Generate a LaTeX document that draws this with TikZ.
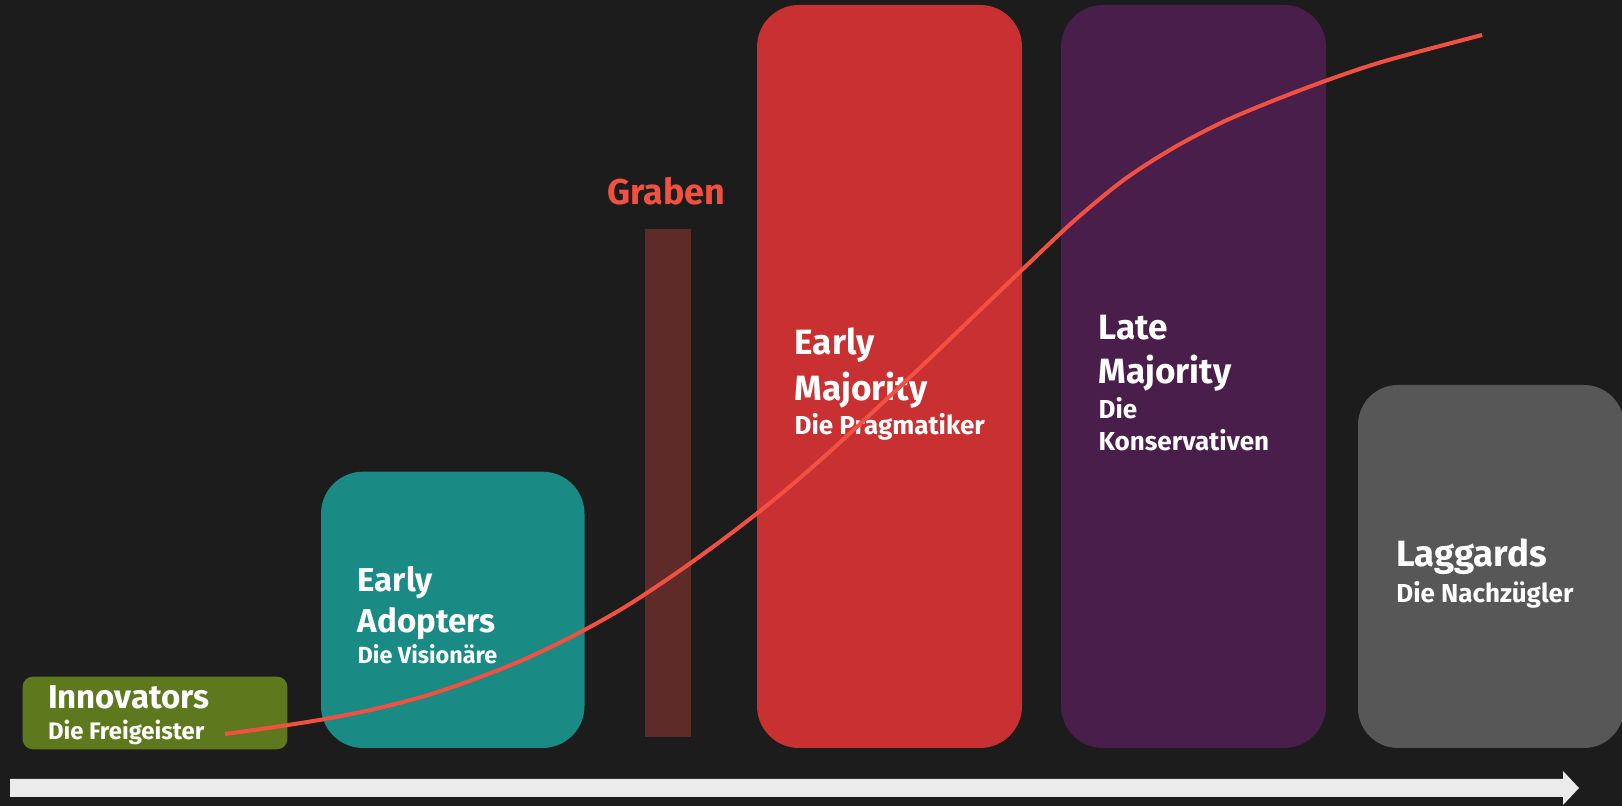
\documentclass[tikz,border=0pt]{standalone}
\usepackage{fontspec}
\setmainfont{Fira Sans}

\definecolor{bg}{HTML}{1C1C1C}
\definecolor{innogreen}{HTML}{5E781E}
\definecolor{adoptteal}{HTML}{1A8A85}
\definecolor{grabenbar}{HTML}{5E2B29}
\definecolor{grabentext}{HTML}{F25142}
\definecolor{earlyred}{HTML}{C93032}
\definecolor{latepurple}{HTML}{4A1E4A}
\definecolor{laggray}{HTML}{575757}
\definecolor{arrowgray}{HTML}{EBEBEB}

\begin{document}
\begin{tikzpicture}[
    title/.style = {anchor = base west, inner sep = 0, text = white, font = \bfseries\fontsize{#1}{12}\selectfont},
    title/.default = 9.4,
    sub/.style = {anchor = base west, inner sep = 0, text = white, font = \bfseries\fontsize{#1}{8}\selectfont},
    sub/.default = 6.7]

    \fill [bg] (0, 0) rectangle (16.22, 8.06);
    \useasboundingbox (0, 0) rectangle (16.22, 8.06);

    % boxes
    \fill [innogreen, rounded corners = 0.1cm] (0.227, 0.567) rectangle (2.873, 1.293);
    \fill [adoptteal, rounded corners = 0.42cm] (3.21, 0.58) rectangle (5.845, 3.343);
    \fill [grabenbar] (6.45, 0.685) rectangle (6.91, 5.77);
    \fill [earlyred, rounded corners = 0.42cm] (7.57, 0.58) rectangle (10.22, 8.01);
    \fill [latepurple, rounded corners = 0.42cm] (10.61, 0.58) rectangle (13.26, 8.01);
    \fill [laggray, rounded corners = 0.4cm] (13.58, 0.58) rectangle (16.24, 4.21);

    % time axis
    \fill [arrowgray] (0.10, 0.09) -- (15.63, 0.09) -- (15.63, 0.01) -- (15.79, 0.18)
        -- (15.63, 0.35) -- (15.63, 0.27) -- (0.10, 0.27) -- cycle;

    \node [title] (inno) at (0.473, 0.977) {Innovators};
    \node [sub = 6.8] (innosub) at (0.473, 0.66) {Die Freigeister};

    \node [title] (ea1) at (3.57, 2.143) {Early};
    \node [title] (ea2) at (3.57, 1.737) {Adopters};
    \node [sub = 6.65] (easub) at (3.57, 1.42) {Die Visionäre};

    \node [anchor = base, inner sep = 0, text = grabentext, font = \bfseries\fontsize{10.2}{12}\selectfont] (graben) at (6.665, 6.01) {Graben};

    \node [title = 10] (em1) at (7.94, 4.51) {Early};
    \node [title = 10] (em2) at (7.94, 4.053) {Majority};
    \node [sub = 7.4] (emsub) at (7.94, 3.717) {Die Pragmatiker};

    \node [title = 10] (lm1) at (10.98, 4.667) {Late};
    \node [title = 10] (lm2) at (10.98, 4.22) {Majority};
    \node [sub = 7.4] (lmsub1) at (10.98, 3.877) {Die};
    \node [sub = 7.4] (lmsub2) at (10.98, 3.553) {Konservativen};

    \node [title = 10.4] (lag) at (13.957, 2.393) {Laggards};
    \node [sub = 7.4] (lagsub) at (13.957, 2.037) {Die Nachzügler};

    % adoption curve
    \draw [grabentext, line width = 0.04cm] plot [smooth] coordinates {
        (2.25, 0.72) (2.75, 0.79) (3.25, 0.87) (3.75, 0.97) (4.25, 1.10) (4.75, 1.27)
        (5.25, 1.47) (5.75, 1.71) (6.25, 1.99) (6.75, 2.32) (7.25, 2.68) (7.75, 3.07)
        (8.25, 3.50) (8.75, 3.96) (9.25, 4.43) (9.75, 4.91) (10.25, 5.39) (10.75, 5.86)
        (11.25, 6.27) (11.75, 6.59) (12.25, 6.85) (12.75, 7.06) (13.25, 7.25) (13.75, 7.42)
        (14.25, 7.56) (14.82, 7.71)};

\end{tikzpicture}
\end{document}
